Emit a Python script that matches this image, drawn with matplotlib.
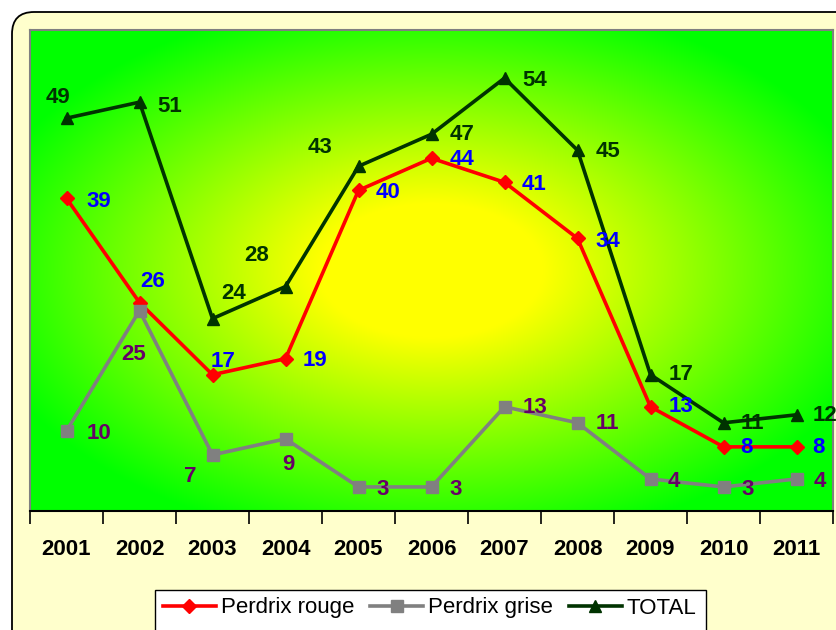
import numpy as np
import matplotlib
matplotlib.use("Agg")
import matplotlib.pyplot as plt
from matplotlib.patches import FancyBboxPatch, Rectangle

# ---- data ----
years = ['2001', '2002', '2003', '2004', '2005', '2006', '2007', '2008', '2009', '2010', '2011']
perdrix_rouge = [39, 26, 17, 19, 40, 44, 41, 34, 13, 8, 8]
perdrix_grise = [10, 25, 7, 9, 3, 3, 13, 11, 4, 3, 4]
total = [49, 51, 24, 28, 43, 47, 54, 45, 17, 11, 12]

# label offsets (pixels, x right / y down) - styling only
off_total = [(-8, -24), (30, 1), (21, -28), (-29, -34), (-38, -22), (31, -3),
             (30, -1), (30, -2), (31, -3), (29, -2), (28, -2)]
off_rouge = [(32, 0), (13, -24), (11, -16), (30, -1), (30, -1), (30, -2),
             (29, -1), (30, 0), (31, -3), (23, -2), (22, -2)]
off_grise = [(32, 0), (-6, 41), (-22, 19), (3, 23), (24, 0), (24, 0),
             (31, -2), (30, -2), (23, 0), (24, 0), (23, 0)]
LABEL_SHIFT = 3  # pixels down

plt.rcParams['font.family'] = ['Liberation Sans', 'DejaVu Sans']

W, H = 836, 630
fig = plt.figure(figsize=(W / 100, H / 100), dpi=100)
fig.patch.set_facecolor('white')

# outer rounded frame
bg = fig.add_axes([0, 0, 1, 1])
bg.set_xlim(0, W)
bg.set_ylim(H, 0)
bg.axis('off')
frame = FancyBboxPatch((12, 12), 860, 660, boxstyle="round,pad=0,rounding_size=22",
                       fc='#FFFFCC', ec='black', lw=1.3)
bg.add_patch(frame)
# legend box (extends past the bottom edge)
bg.add_patch(Rectangle((155, 590), 551, 60, fc='white', ec='black', lw=1.0))

# plot area
L, R, T, B = 30, 833, 30, 511
ax = fig.add_axes([L / W, 1 - B / H, (R - L) / W, (B - T) / H])
ax.set_xlim(-0.5, len(years) - 0.5)
ax.set_ylim(0, 60)

# radial gradient background (yellow center -> green edges)
nx, ny = R - L, B - T
u = np.linspace(-1, 1, nx)[None, :]
v = np.linspace(-1, 1, ny)[:, None]
r = np.sqrt(u ** 2 + v ** 2)
f = np.clip((r - 0.28) / 0.88, 0, 1)
img = np.zeros((ny, nx, 3))
img[..., 0] = 1 - f
img[..., 1] = 1.0
img[..., 2] = 0.0
ax.imshow(img, extent=(-0.5, len(years) - 0.5, 0, 60), aspect='auto', zorder=0,
          origin='upper', interpolation='bilinear')

x = np.arange(len(years))
l1, = ax.plot(x, perdrix_rouge, color='#FF0000', lw=2.6, marker='D', ms=7,
              label='Perdrix rouge', zorder=3)
l2, = ax.plot(x, perdrix_grise, color='#808080', lw=2.6, marker='s', ms=8,
              label='Perdrix grise', zorder=4)
l3, = ax.plot(x, total, color='#003300', lw=2.6, marker='^', ms=9,
              label='TOTAL', zorder=5)

def labels(vals, offs, color):
    for xi, val, (dx, dy) in zip(x, vals, offs):
        ax.annotate(str(val), (xi, val), xytext=(dx, -(dy + LABEL_SHIFT)),
                    textcoords='offset pixels',
                    ha='center', va='center', fontsize=16, fontweight='bold',
                    color=color, zorder=6)

labels(perdrix_rouge, off_rouge, '#0000FF')
labels(perdrix_grise, off_grise, '#660066')
labels(total, off_total, '#003300')

# axes styling
ax.set_xticks(x)
ax.set_xticklabels(years, fontsize=16, fontweight='bold')
ax.set_xticks(np.arange(-0.5, len(years), 1), minor=True)
ax.tick_params(axis='x', which='major', length=0, pad=20)
ax.tick_params(axis='x', which='minor', length=9, width=1.2, color='black', direction='out')
ax.set_yticks([])
for s in ['top', 'left', 'right']:
    ax.spines[s].set_color('#808080')
    ax.spines[s].set_linewidth(1.5)
ax.spines['bottom'].set_color('black')
ax.spines['bottom'].set_linewidth(1.5)

leg = fig.legend(handles=[l1, l2, l3], loc='center left',
                 bbox_to_anchor=(155 / W, 1 - 608 / H), borderaxespad=0, ncol=3,
                 fontsize=16, frameon=False, handlelength=2.4, handletextpad=0.22,
                 columnspacing=0.7, borderpad=0.35, numpoints=1)

fig.savefig('out.png', dpi=100)
